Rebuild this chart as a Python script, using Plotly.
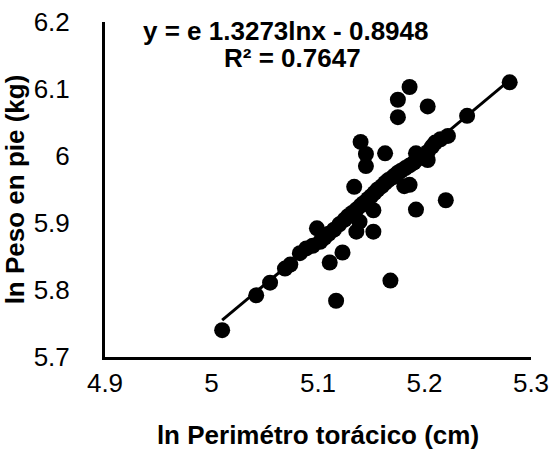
import plotly.graph_objects as go

# Data (natural log values)
ln_perimetro = [5.010, 5.042, 5.055, 5.069, 5.074, 5.083, 5.089, 5.095, 5.099, 5.102,
                5.106, 5.110, 5.111, 5.117, 5.115, 5.120, 5.123, 5.125, 5.128, 5.132,
                5.134, 5.136, 5.136, 5.139, 5.140, 5.140, 5.143, 5.145, 5.145, 5.147,
                5.150, 5.152, 5.152, 5.153, 5.156, 5.160, 5.163, 5.163, 5.166, 5.168,
                5.170, 5.172, 5.175, 5.175, 5.175, 5.178, 5.181, 5.182, 5.186, 5.186,
                5.186, 5.190, 5.192, 5.192, 5.194, 5.198, 5.203, 5.203, 5.203, 5.207,
                5.210, 5.215, 5.220, 5.222, 5.240, 5.280]
ln_peso = [5.740, 5.792, 5.811, 5.832, 5.838, 5.855, 5.862, 5.866, 5.892, 5.872,
           5.878, 5.884, 5.841, 5.784, 5.890, 5.898, 5.856, 5.905, 5.910, 5.915,
           5.954, 5.887, 5.920, 5.902, 5.926, 6.021, 5.930, 6.003, 5.985, 5.936,
           5.940, 5.919, 5.887, 5.945, 5.950, 5.955, 6.004, 5.960, 5.964, 5.814,
           5.968, 5.971, 6.084, 6.058, 5.975, 5.978, 5.955, 5.982, 6.103, 5.957,
           5.986, 5.990, 5.920, 6.004, 5.996, 6.000, 5.994, 6.074, 6.006, 6.014,
           6.020, 6.025, 5.934, 6.030, 6.060, 6.110]

# Trendline coefficients (from the equation shown)
slope = 1.3273
intercept = -0.8948

x_tick_vals = [4.9, 5.0, 5.1, 5.2, 5.3]
x_tick_text = ["4.9", "5", "5.1", "5.2", "5.3"]
y_tick_vals = [5.7, 5.8, 5.9, 6.0, 6.1, 6.2]
y_tick_text = ["5.7", "5.8", "5.9", "6", "6.1", "6.2"]

equation_text = "y = e 1.3273lnx - 0.8948"
r2_text = "R² = 0.7647"

FONT = "Liberation Sans, Arial, sans-serif"
FS = 26

trend_x = [min(ln_perimetro), max(ln_perimetro)]
trend_y = [slope * v + intercept for v in trend_x]

fig = go.Figure()
fig.add_trace(go.Scatter(
    x=ln_perimetro, y=ln_peso, mode="markers",
    marker=dict(color="black", size=16, line=dict(width=0)),
    showlegend=False, hoverinfo="skip", cliponaxis=False))
fig.add_trace(go.Scatter(
    x=trend_x, y=trend_y, mode="lines",
    line=dict(color="black", width=3),
    showlegend=False, hoverinfo="skip"))

fig.update_layout(
    width=551, height=453,
    margin=dict(l=105, r=20, t=22, b=96),
    paper_bgcolor="white", plot_bgcolor="white",
    font=dict(family=FONT, color="black", size=FS),
    xaxis=dict(range=[4.9, 5.3], tickvals=x_tick_vals, ticktext=x_tick_text,
               showgrid=False, zeroline=False, showline=True, linecolor="black",
               linewidth=3, ticks="", ticklabelstandoff=1, automargin=False,
               ticklabeloverflow="allow",
               tickfont=dict(size=FS, family=FONT),
               title=dict(text="<b>ln Perimétro torácico (cm)</b>",
                          font=dict(size=FS, family=FONT), standoff=29)),
    yaxis=dict(range=[5.7, 6.2], tickvals=y_tick_vals, ticktext=y_tick_text,
               showgrid=False, zeroline=False, showline=True, linecolor="black",
               linewidth=3, ticks="", ticklabelstandoff=27, automargin=False,
               ticklabeloverflow="allow",
               tickfont=dict(size=FS, family=FONT),
               title=dict(text="<b>ln Peso en pie (kg)</b>",
                          font=dict(size=FS, family=FONT), standoff=10)),
    annotations=[
        dict(text="<b>" + equation_text + "</b>", xref="paper", yref="paper",
             x=0.425, y=0.972, xanchor="center", yanchor="middle", showarrow=False,
             font=dict(size=FS, family=FONT, color="black")),
        dict(text="<b>" + r2_text + "</b>", xref="paper", yref="paper",
             x=0.439, y=0.894, xanchor="center", yanchor="middle", showarrow=False,
             font=dict(size=FS, family=FONT, color="black")),
    ],
)

fig.write_html(
    "out.html",
    config={"displayModeBar": False, "staticPlot": True},
    post_script="document.body.style.margin='0';document.body.style.overflow='hidden';",
)
